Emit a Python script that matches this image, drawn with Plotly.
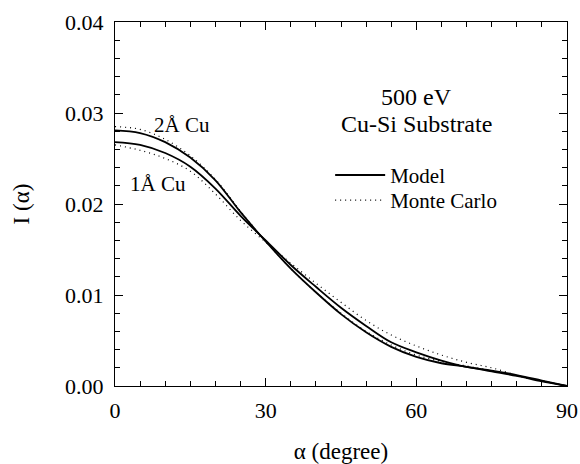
import plotly.graph_objects as go

# ---- data ----
alpha = [0, 5, 10, 15, 20, 25, 30, 35, 40, 45, 50, 55, 60, 65, 70, 75, 80, 85, 90]

model_2A = [0.0281, 0.0278, 0.0268, 0.0251, 0.0226, 0.0191, 0.0159, 0.0129, 0.0103, 0.0079,
            0.0059, 0.0043, 0.0032, 0.0025, 0.0021, 0.0016, 0.0011, 0.0005, 0.0000]
model_1A = [0.0268, 0.0265, 0.0256, 0.0241, 0.0217, 0.0187, 0.0160, 0.0133, 0.0109, 0.0086,
            0.0066, 0.0048, 0.0037, 0.0028, 0.0021, 0.0017, 0.0012, 0.0006, 0.0000]
mc_2A = [0.0285, 0.0282, 0.0271, 0.0253, 0.0227, 0.0192, 0.0159, 0.0129, 0.0103, 0.0080,
         0.0060, 0.0045, 0.0034, 0.0027, 0.0022, 0.0017, 0.0011, 0.0005, 0.0000]
mc_1A = [0.0265, 0.0259, 0.0250, 0.0236, 0.0211, 0.0182, 0.0158, 0.0135, 0.0113, 0.0092,
         0.0072, 0.0056, 0.0044, 0.0034, 0.0026, 0.0020, 0.0012, 0.0006, 0.0000]

x_ticks = [0, 30, 60, 90]
y_ticks = [0.00, 0.01, 0.02, 0.03, 0.04]

FONT = "Liberation Serif, Times New Roman, serif"

fig = go.Figure()
fig.add_trace(go.Scatter(x=alpha, y=model_2A, mode="lines", name="Model", legend="legend",
                         line=dict(color="black", width=1.8, shape="spline"), showlegend=True))
fig.add_trace(go.Scatter(x=alpha, y=model_1A, mode="lines", name="Model 1A",
                         line=dict(color="black", width=1.8, shape="spline"), showlegend=False))
fig.add_trace(go.Scatter(x=alpha, y=mc_2A, mode="lines", name="Monte Carlo", legend="legend2",
                         line=dict(color="black", width=1.2, dash="1px,4px", shape="spline"),
                         showlegend=True))
fig.add_trace(go.Scatter(x=alpha, y=mc_1A, mode="lines", name="Monte Carlo 1A",
                         line=dict(color="black", width=1.2, dash="1px,4px", shape="spline"),
                         showlegend=False))

axis_common = dict(showline=True, linecolor="black", linewidth=1.2, mirror="ticks",
                   ticks="inside", ticklen=8, tickwidth=1.2, tickcolor="black",
                   showgrid=False, zeroline=False, automargin=False,
                   tickfont=dict(family=FONT, size=22, color="black"))

fig.update_xaxes(range=[0, 90], tickvals=x_ticks, ticktext=[str(v) for v in x_ticks],
                 minor=dict(dtick=5, ticks="inside", ticklen=5, tickcolor="black", tickwidth=1),
                 ticklabelstandoff=4,
                 title=dict(text="α (degree)", font=dict(family=FONT, size=23, color="black"),
                            standoff=26),
                 **axis_common)
fig.update_yaxes(range=[0, 0.04], tickvals=y_ticks, ticktext=[f"{v:.2f}" for v in y_ticks],
                 minor=dict(dtick=0.002, ticks="inside", ticklen=5, tickcolor="black", tickwidth=1),
                 ticklabelstandoff=6,
                 title=dict(text="I (α)", font=dict(family=FONT, size=23, color="black"),
                            standoff=28),
                 **axis_common)

fig.add_annotation(x=7.4, y=0.0287, text="2Å Cu", showarrow=False, xanchor="left",
                   font=dict(family=FONT, size=21, color="black"))
fig.add_annotation(x=2.6, y=0.0222, text="1Å Cu", showarrow=False, xanchor="left",
                   font=dict(family=FONT, size=21, color="black"))
fig.add_annotation(x=60, y=0.0318, text="500 eV", showarrow=False,
                   font=dict(family=FONT, size=24, color="black"))
fig.add_annotation(x=60, y=0.0288, text="Cu-Si Substrate", showarrow=False,
                   font=dict(family=FONT, size=24, color="black"))

legend_common = dict(xanchor="left", yanchor="top", bgcolor="rgba(0,0,0,0)", borderwidth=0,
                     itemwidth=50, font=dict(family=FONT, size=21, color="black"))
fig.update_layout(
    width=580, height=464,
    margin=dict(l=115, r=13, t=22, b=78, autoexpand=False),
    paper_bgcolor="white", plot_bgcolor="white",
    legend=dict(x=0.476, y=0.635, **legend_common),
    legend2=dict(x=0.476, y=0.566, **legend_common),
)

fig.write_html("out.html")
